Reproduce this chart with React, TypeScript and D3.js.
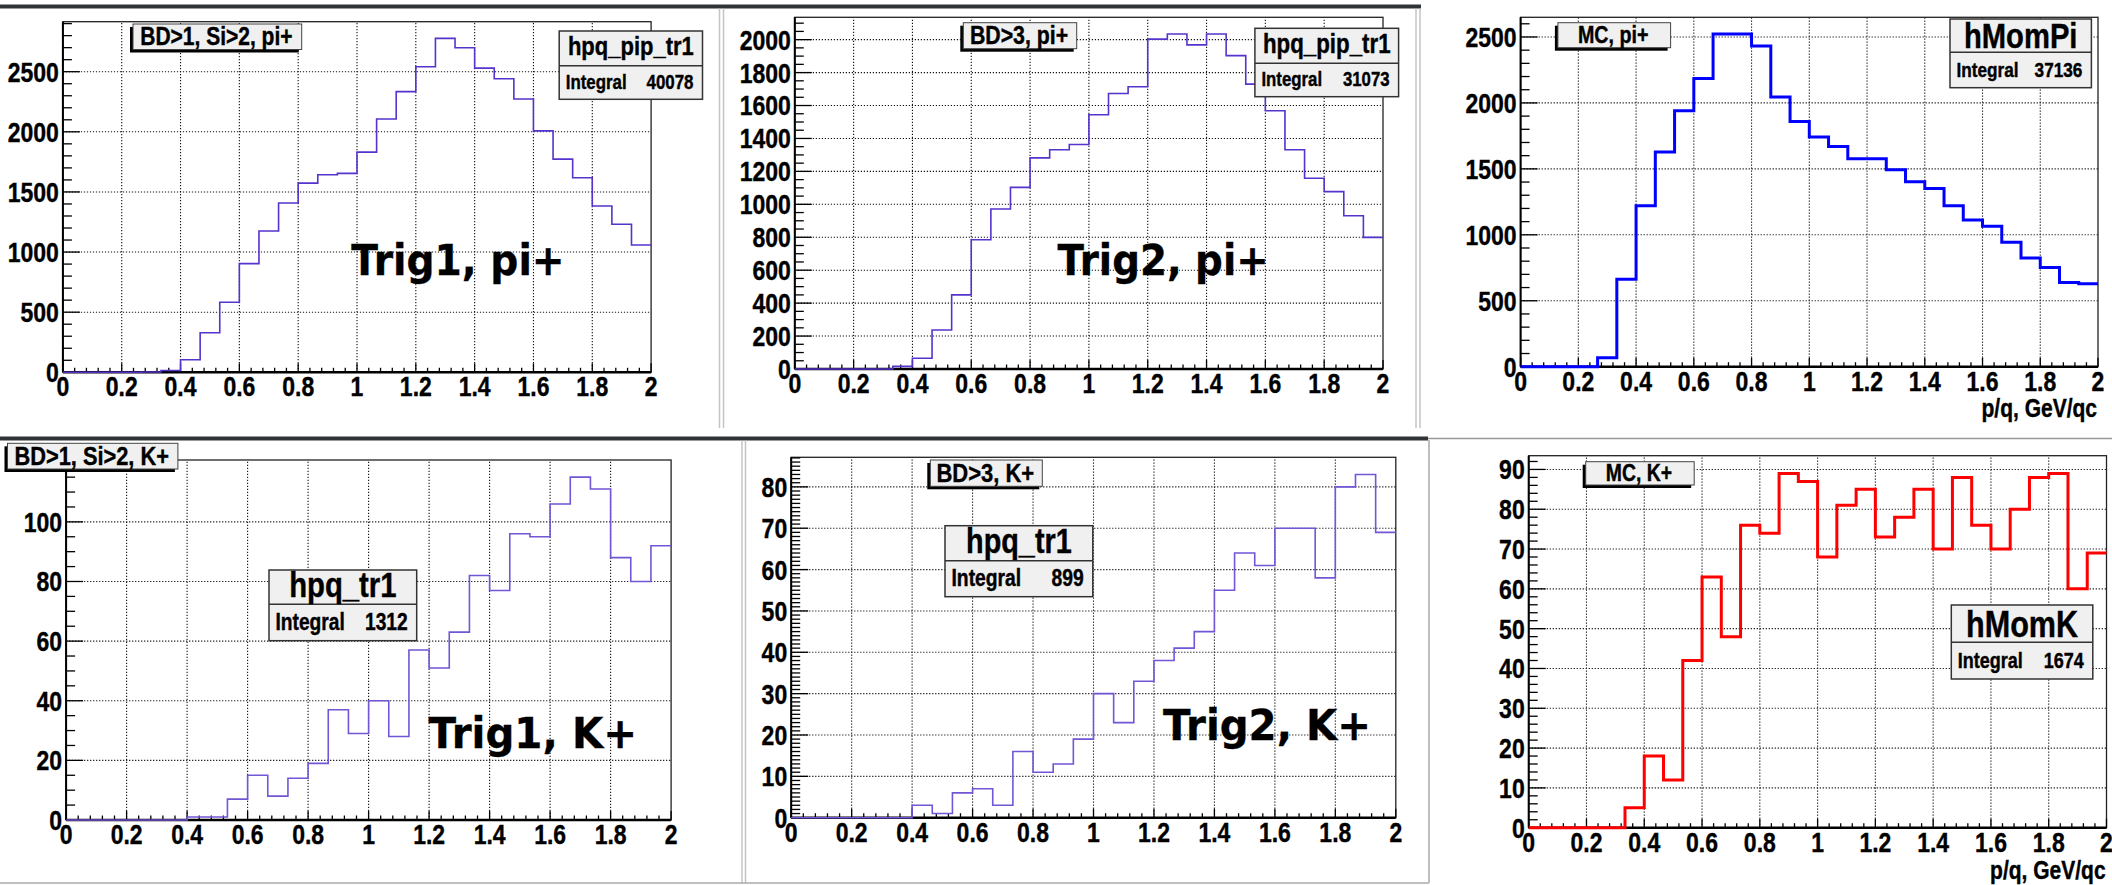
import React from 'react'
import * as d3 from 'd3'

// 30 bins over p/q = 0..2 GeV/qc
const binCount = 30
const xDomain: [number, number] = [0, 2]
const xTickLabels = [0, 0.2, 0.4, 0.6, 0.8, 1, 1.2, 1.4, 1.6, 1.8, 2]

const trig1PiCounts = [0, 0, 0, 0, 2, 15, 105, 329, 583, 904, 1175, 1408, 1573, 1643, 1654, 1831, 2107, 2334, 2541, 2777, 2699, 2530, 2442, 2273, 2008, 1773, 1618, 1383, 1231, 1059]
const trig2PiCounts = [0, 0, 0, 0, 0, 16, 65, 237, 450, 785, 972, 1103, 1282, 1331, 1363, 1544, 1673, 1714, 2003, 2034, 1968, 2034, 1903, 1730, 1568, 1331, 1158, 1077, 931, 799]
const mcPiCounts = [0, 0, 0, 0, 68, 663, 1220, 1627, 1941, 2186, 2523, 2523, 2432, 2045, 1860, 1741, 1670, 1576, 1576, 1493, 1402, 1351, 1220, 1113, 1065, 944, 825, 752, 638, 628]
const trig1KCounts = [0, 0, 0, 0, 0, 0, 1, 1, 7, 15, 8, 14, 19, 37, 29, 40, 28, 57, 51, 63, 82, 77, 96, 95, 106, 115, 111, 88, 80, 92]
const trig2KCounts = [0, 0, 0, 0, 0, 0, 3, 1, 6, 7, 3, 16, 11, 13, 19, 30, 23, 33, 38, 41, 45, 55, 64, 61, 70, 70, 58, 80, 83, 69]
const mcKCounts = [0, 0, 0, 0, 0, 5, 18, 12, 42, 63, 48, 76, 74, 89, 87, 68, 81, 85, 73, 78, 85, 70, 88, 76, 70, 80, 88, 89, 60, 69]

const trig1PiYTicks = [0, 500, 1000, 1500, 2000, 2500]
const trig2PiYTicks = [0, 200, 400, 600, 800, 1000, 1200, 1400, 1600, 1800, 2000]
const mcPiYTicks = [0, 500, 1000, 1500, 2000, 2500]
const trig1KYTicks = [0, 20, 40, 60, 80, 100]
const trig2KYTicks = [0, 10, 20, 30, 40, 50, 60, 70, 80]
const mcKYTicks = [0, 10, 20, 30, 40, 50, 60, 70, 80, 90]

const FONT = '"Liberation Sans", Arial, Helvetica, sans-serif'
// ROOT's bitmap Helvetica reads taller than Liberation at the same width
const HS = 1.2

type TxtProps = { x: number; y: number; size: number; anchor?: string; family?: string; len?: number; children: React.ReactNode }
const Txt = ({ x, y, size, anchor = 'start', family = FONT, len, children }: TxtProps) =>
    len ? (
        <text x={x} y={y} fontSize={size} fontFamily={family} fontWeight="bold" textAnchor={anchor}
            stroke="#000" strokeWidth={0.35} textLength={len} lengthAdjust="spacingAndGlyphs">{children}</text>
    ) : (
        <text transform={`translate(${x},${y}) scale(${1 / HS},1)`} fontSize={size * HS} fontFamily={family}
            fontWeight="bold" textAnchor={anchor} stroke="#000" strokeWidth={0.4}>{children}</text>
    )

type Cfg = {
    counts: number[]
    yTicks: number[]
    yMinor: number
    frame: [number, number, number, number]
    color: string
    width: number
    label: { text: string; box: [number, number, number, number]; size: number }
    stat: { name: string; integral: string; box: [number, number, number, number]; div: number; nameSize: number; intSize: number; nameDy: number }
    big?: { text: string; x: number; y: number; len: number }
    xTitle?: { x: number; y: number }
}

const panels: Cfg[] = [
    {
        counts: trig1PiCounts, yTicks: trig1PiYTicks, yMinor: 5, frame: [62.9, 21.7, 651.1, 372.3],
        color: '#5533cc', width: 1.6,
        label: { text: 'BD>1, Si>2, pi+', box: [133, 24, 301.7, 49.5], size: 21 },
        stat: { name: 'hpq_pip_tr1', integral: '40078', box: [559.2, 31, 702.5, 99.3], div: 65.7, nameSize: 22, intSize: 16.9, nameDy: 0.27 },
        big: { text: 'Trig1, pi+', x: 351.2, y: 275, len: 213.5 },
    },
    {
        counts: trig2PiCounts, yTicks: trig2PiYTicks, yMinor: 4, frame: [794.8, 17.3, 1383, 369],
        color: '#5533cc', width: 1.6,
        label: { text: 'BD>3, pi+', box: [963.3, 22.7, 1076.7, 48.7], size: 21.3 },
        stat: { name: 'hpq_pip_tr1', integral: '31073', box: [1254.9, 28.3, 1398.6, 96.7], div: 63.3, nameSize: 22.3, intSize: 16.8, nameDy: 0.27 },
        big: { text: 'Trig2, pi+', x: 1057.5, y: 275, len: 211.2 },
    },
    {
        counts: mcPiCounts, yTicks: mcPiYTicks, yMinor: 5, frame: [1520.6, 17.3, 2098, 366.7],
        color: '#0000ff', width: 3,
        label: { text: 'MC, pi+', box: [1557.9, 22.7, 1670.6, 47.7], size: 19.7 },
        stat: { name: 'hMomPi', integral: '37136', box: [1950, 19, 2091.4, 87.7], div: 52.3, nameSize: 29.2, intSize: 17.2, nameDy: 0.36 },
        xTitle: { x: 2097, y: 417 },
    },
    {
        counts: trig1KCounts, yTicks: trig1KYTicks, yMinor: 4, frame: [66.1, 460, 671.1, 820],
        color: '#7256d6', width: 1.6,
        label: { text: 'BD>1, Si>2, K+', box: [7.5, 443.3, 177.9, 469], size: 21.8 },
        stat: { name: 'hpq_tr1', integral: '1312', box: [269, 570, 416.7, 640.7], div: 604.3, nameSize: 29.3, intSize: 19.2, nameDy: 0.29 },
        big: { text: 'Trig1, K+', x: 428.5, y: 748.3, len: 208.6 },
    },
    {
        counts: trig2KCounts, yTicks: trig2KYTicks, yMinor: 10, frame: [791.2, 457.3, 1395.8, 817.7],
        color: '#7256d6', width: 1.6,
        label: { text: 'BD>3, K+', box: [930.3, 460, 1042.3, 486.3], size: 22 },
        stat: { name: 'hpq_tr1', integral: '899', box: [945, 525.7, 1092.8, 596.7], div: 560.7, nameSize: 28.8, intSize: 19.3, nameDy: 0.29 },
        big: { text: 'Trig2, K+', x: 1163, y: 740, len: 208 },
    },
    {
        counts: mcKCounts, yTicks: mcKYTicks, yMinor: 5, frame: [1528.7, 455.7, 2106.5, 827.7],
        color: '#ff0000', width: 3,
        label: { text: 'MC, K+', box: [1585.7, 461.7, 1694.2, 485], size: 19.4 },
        stat: { name: 'hMomK', integral: '1674', box: [1951.3, 605, 2092.8, 679], div: 642.3, nameSize: 30.6, intSize: 18, nameDy: 0.36 },
        xTitle: { x: 2105.6, y: 879 },
    },
]

const Panel = ({ cfg }: { cfg: Cfg }) => {
    const [l, t, r, b] = cfg.frame
    const x = d3.scaleLinear().domain(xDomain).range([l, r])
    const yMax = 1.05 * (d3.max(cfg.counts) as number)
    const y = d3.scaleLinear().domain([0, yMax]).range([b, t])

    const edges = d3.range(binCount + 1).map(i => xDomain[0] + (i * (xDomain[1] - xDomain[0])) / binCount)
    const pts: [number, number][] = cfg.counts.map((c, i) => [edges[i], c] as [number, number])
    pts.push([edges[binCount], cfg.counts[binCount - 1]])
    const path = d3.line<[number, number]>().x(d => x(d[0])).y(d => y(d[1])).curve(d3.curveStepAfter)(pts) || ''

    const major = cfg.yTicks[1] - cfg.yTicks[0]
    const yMinorTicks = d3.range(0, yMax, major / cfg.yMinor)
    const xMinorTicks = d3.range(51).map(i => i * 0.04)

    const [lx0, ly0, lx1, ly1] = cfg.label.box
    const [sx0, sy0, sx1, sy1] = cfg.stat.box
    const nameMid = (sy0 + cfg.stat.div) / 2
    const intMid = (cfg.stat.div + sy1) / 2
    const tick = 23

    return (
        <g>
            {/* grid */}
            <g stroke="#111" strokeWidth={1.1} strokeDasharray="1.2 1.8">
                {xTickLabels.filter(v => v > 0 && v < 2).map(v => (
                    <line key={'gx' + v} x1={x(v)} x2={x(v)} y1={b} y2={t} />
                ))}
                {cfg.yTicks.filter(v => v > 0).map(v => (
                    <line key={'gy' + v} x1={l} x2={r} y1={y(v)} y2={y(v)} />
                ))}
            </g>
            {/* frame */}
            <rect x={l} y={t} width={r - l} height={b - t} fill="none" stroke="#222" strokeWidth={1.3} />
            {/* ticks */}
            <g stroke="#000" strokeWidth={1.3}>
                {yMinorTicks.map(v => (
                    <line key={'ym' + v} x1={l} x2={l + (cfg.yTicks.includes(v) ? 17 : 9)} y1={y(v)} y2={y(v)} />
                ))}
                {xMinorTicks.map((v, i) => (
                    <line key={'xm' + i} x1={x(v)} x2={x(v)} y1={b} y2={b - (i % 5 === 0 ? 9 : 4.5)} />
                ))}
            </g>
            <line x1={l} x2={l} y1={b} y2={t} stroke="#000" strokeWidth={2} />
            <line x1={l} x2={r} y1={b} y2={b} stroke="#000" strokeWidth={2.5} />
            {/* histogram */}
            <path d={path} fill="none" stroke={cfg.color} strokeWidth={cfg.width} />
            {/* tick labels */}
            {cfg.yTicks.map(v => (
                <Txt key={'yl' + v} x={l - 4} y={y(v) + 0.36 * tick * HS} size={tick} anchor="end">{String(v)}</Txt>
            ))}
            {xTickLabels.map(v => (
                <Txt key={'xl' + v} x={x(v)} y={b + 24} size={tick} anchor="middle">{String(v)}</Txt>
            ))}
            {cfg.xTitle && (
                <Txt x={cfg.xTitle.x} y={cfg.xTitle.y} size={21} anchor="end">p/q, GeV/qc</Txt>
            )}
            {/* title box with shadow */}
            <rect x={lx0 - 3} y={ly0 + 3} width={lx1 - lx0} height={ly1 - ly0} fill="#000" />
            <rect x={lx0} y={ly0} width={lx1 - lx0} height={ly1 - ly0} fill="#f0f0f0" stroke="#444" strokeWidth={1} />
            <Txt x={(lx0 + lx1) / 2 - 1} y={(ly0 + ly1) / 2 + 0.34 * cfg.label.size * HS} size={cfg.label.size} anchor="middle">{cfg.label.text}</Txt>
            {/* stat box */}
            <rect x={sx0} y={sy0} width={sx1 - sx0} height={sy1 - sy0} fill="#f0f0f0" stroke="#333" strokeWidth={1.5} />
            <line x1={sx0} x2={sx1} y1={cfg.stat.div} y2={cfg.stat.div} stroke="#333" strokeWidth={1.5} />
            <Txt x={(sx0 + sx1) / 2} y={nameMid + cfg.stat.nameDy * cfg.stat.nameSize * HS} size={cfg.stat.nameSize} anchor="middle">{cfg.stat.name}</Txt>
            <Txt x={sx0 + 6.5} y={intMid + 0.32 * cfg.stat.intSize * HS} size={cfg.stat.intSize}>Integral</Txt>
            <Txt x={sx1 - 9} y={intMid + 0.32 * cfg.stat.intSize * HS} size={cfg.stat.intSize} anchor="end">{cfg.stat.integral}</Txt>
            {cfg.big && (
                <Txt x={cfg.big.x} y={cfg.big.y} size={42} family='"DejaVu Sans", sans-serif' len={cfg.big.len}>{cfg.big.text}</Txt>
            )}
        </g>
    )
}

export default function App() {
    return (
        <svg width={2112} height={885} style={{ position: 'absolute', left: 0, top: 0, background: '#fff' }}>
            <rect x={0} y={0} width={2112} height={885} fill="#fff" />
            {/* window separators */}
            <rect x={0} y={4.5} width={1421} height={4} fill="#2f3436" />
            <rect x={0} y={436.5} width={1428} height={4} fill="#2f3436" />
            <line x1={1428} x2={2112} y1={438.5} y2={438.5} stroke="#999" strokeWidth={1.5} />
            <g stroke="#c4c4c4" strokeWidth={1.5}>
                <line x1={719.5} x2={719.5} y1={8.5} y2={428} />
                <line x1={723.5} x2={723.5} y1={8.5} y2={428} />
                <line x1={1416} x2={1416} y1={8.5} y2={428} />
                <line x1={1420} x2={1420} y1={8.5} y2={428} />
                <line x1={742} x2={742} y1={440.5} y2={883} />
                <line x1={745.5} x2={745.5} y1={440.5} y2={883} />
            </g>
            <line x1={1429} x2={1429} y1={440} y2={883} stroke="#aaa" strokeWidth={1.5} />
            <line x1={0} x2={1429} y1={883} y2={883} stroke="#aaa" strokeWidth={1.5} />
            {panels.map((p, i) => (
                <Panel key={i} cfg={p} />
            ))}
        </svg>
    )
}
